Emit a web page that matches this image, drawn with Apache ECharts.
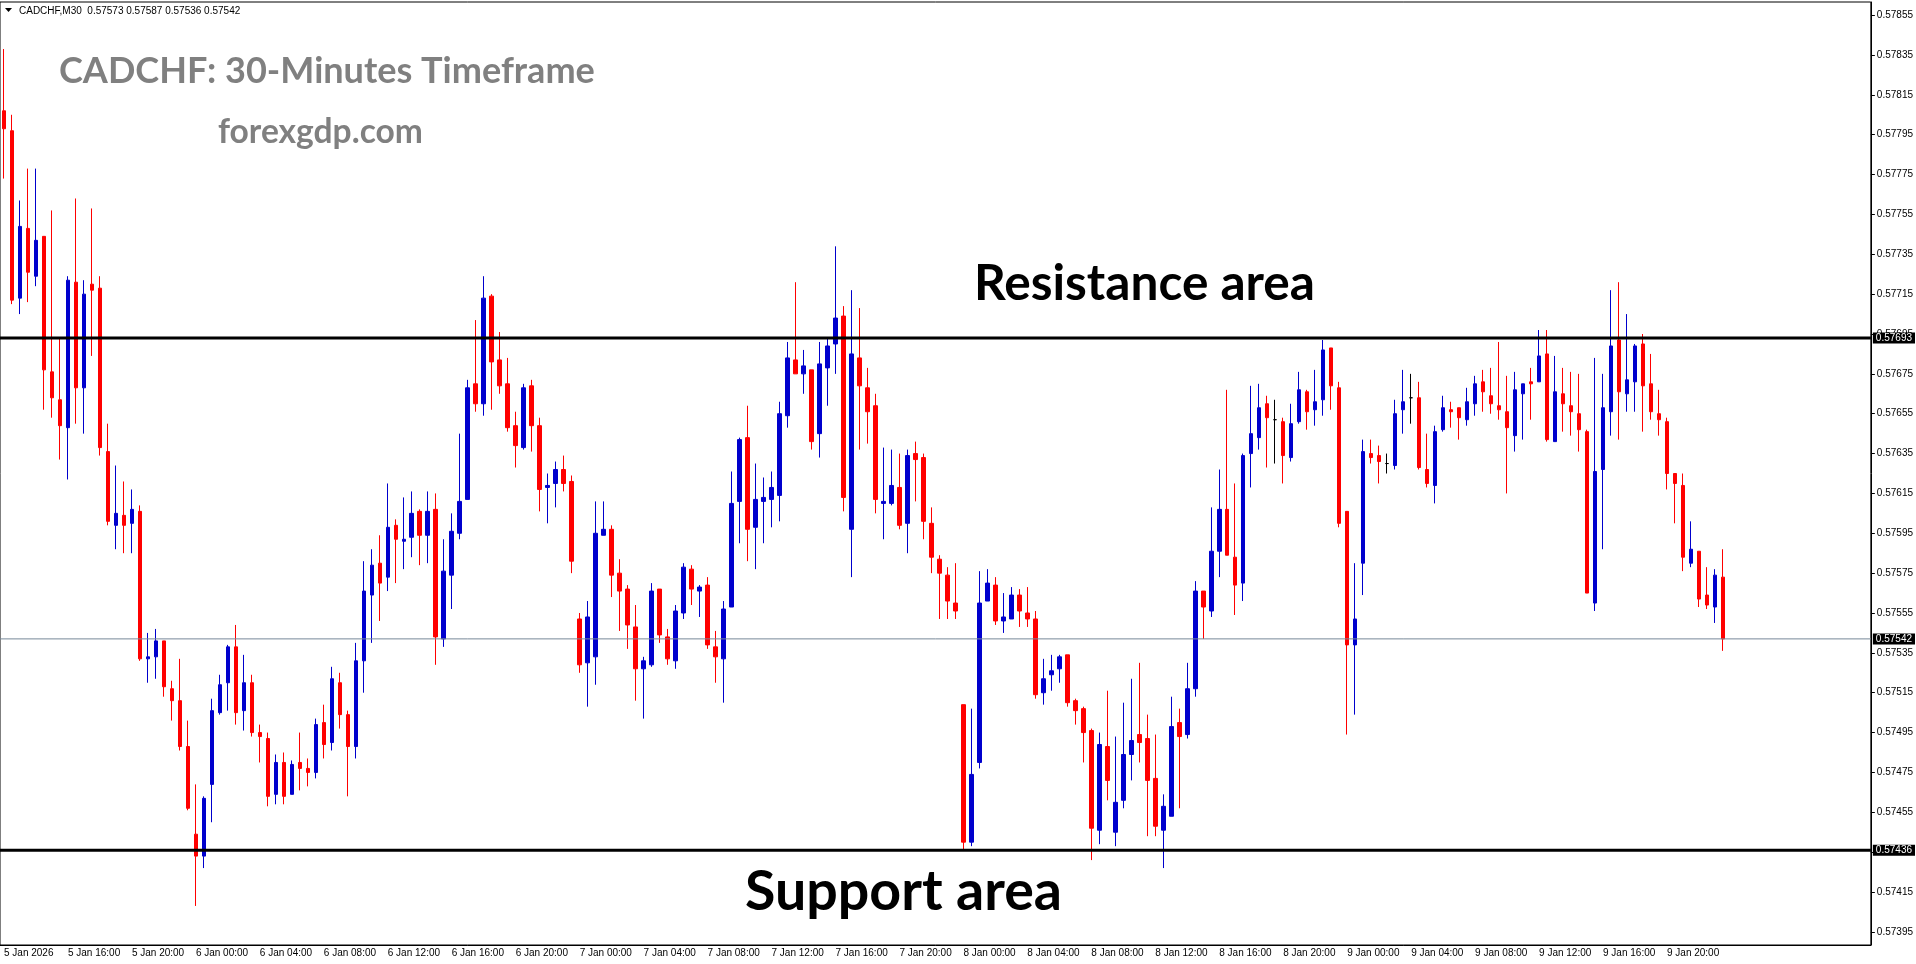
<!DOCTYPE html>
<html>
<head>
<meta charset="utf-8">
<title>CADCHF M30</title>
<script src="https://cdn.jsdelivr.net/npm/echarts@6/dist/echarts.min.js"></script>
<style>
  html, body { margin: 0; padding: 0; background: #fff; }
  #chart { width: 1916px; height: 964px; }
</style>
</head>
<body>
<div id="chart"></div>
<script>
// 30 minute bars, 5 Jan 12:00 .. 9 Jan 23:30
var opens = [
  0.57807,0.57797,0.57713,0.57748,0.57724,0.57744,0.57676,0.57662,0.57648,0.57721,
  0.57668,0.57720,0.57718,0.57636,0.57599,0.57604,0.57600,0.57606,0.57532,0.57533,
  0.57541,0.57517,0.57511,0.57488,0.57444,0.57433,0.57469,0.57505,0.57520,0.57538,
  0.57506,0.57520,0.57495,0.57492,0.57464,0.57480,0.57464,0.57480,0.57477,0.57475,
  0.57500,0.57490,0.57520,0.57504,0.57488,0.57531,0.57564,0.57580,0.57573,0.57599,
  0.57591,0.57593,0.57606,0.57594,0.57607,0.57542,0.57574,0.57595,0.57612,0.57670,
  0.57660,0.57714,0.57682,0.57670,0.57649,0.57638,0.57669,0.57649,0.57618,0.57620,
  0.57627,0.57621,0.57552,0.57530,0.57533,0.57594,0.57597,0.57575,0.57567,0.57548,
  0.57527,0.57529,0.57567,0.57543,0.57531,0.57555,0.57577,0.57566,0.57569,0.57538,
  0.57532,0.57558,0.57611,0.57643,0.57598,0.57611,0.57612,0.57614,0.57654,0.57682,
  0.57675,0.57677,0.57645,0.57678,0.57690,0.57704,0.57597,0.57683,0.57668,0.57659,
  0.57610,0.57610,0.57618,0.57600,0.57635,0.57633,0.57600,0.57582,0.57574,0.57560,
  0.57509,0.57440,0.57480,0.57561,0.57569,0.57551,0.57552,0.57564,0.57555,0.57552,
  0.57515,0.57524,0.57527,0.57534,0.57511,0.57507,0.57496,0.57446,0.57488,0.57445,
  0.57461,0.57484,0.57494,0.57492,0.57472,0.57446,0.57453,0.57500,0.57494,0.57517,
  0.57566,0.57556,0.57586,0.57607,0.57583,0.57570,0.57635,0.57643,0.57660,0.57652,
  0.57651,0.57633,0.57651,0.57666,0.57657,0.57662,0.57688,0.57668,0.57606,0.57539,
  0.57580,0.57635,0.57634,0.57630,0.57629,0.57657,0.57663,0.57663,0.57627,0.57619,
  0.57647,0.57657,0.57658,0.57652,0.57660,0.57671,0.57664,0.57659,0.57656,0.57644,
  0.57665,0.57671,0.57671,0.57685,0.57641,0.57665,0.57659,0.57655,0.57646,0.57560,
  0.57627,0.57656,0.57692,0.57665,0.57671,0.57690,0.57670,0.57655,0.57651,0.57625,
  0.57619,0.57580,0.57586,0.57564,0.57558,0.57573
];
var closes = [
  0.57798,0.57712,0.57749,0.57726,0.57742,0.57677,0.57663,0.57649,0.57722,0.57668,
  0.57715,0.57717,0.57638,0.57601,0.57605,0.57599,0.57607,0.57532,0.57533,0.57541,
  0.57518,0.57511,0.57488,0.57457,0.57433,0.57462,0.57506,0.57519,0.57538,0.57505,
  0.57520,0.57495,0.57493,0.57463,0.57480,0.57463,0.57479,0.57477,0.57475,0.57499,
  0.57489,0.57522,0.57504,0.57488,0.57531,0.57566,0.57579,0.57570,0.57598,0.57592,
  0.57592,0.57605,0.57594,0.57606,0.57543,0.57576,0.57596,0.57611,0.57668,0.57660,
  0.57713,0.57681,0.57669,0.57648,0.57639,0.57668,0.57649,0.57617,0.57619,0.57627,
  0.57620,0.57581,0.57529,0.57553,0.57595,0.57597,0.57574,0.57566,0.57549,0.57527,
  0.57531,0.57566,0.57544,0.57532,0.57556,0.57578,0.57567,0.57568,0.57539,0.57533,
  0.57557,0.57610,0.57642,0.57597,0.57612,0.57613,0.57618,0.57655,0.57683,0.57675,
  0.57679,0.57641,0.57680,0.57689,0.57703,0.57613,0.57685,0.57669,0.57656,0.57612,
  0.57611,0.57619,0.57599,0.57634,0.57632,0.57601,0.57583,0.57575,0.57561,0.57556,
  0.57440,0.57474,0.57560,0.57570,0.57551,0.57553,0.57564,0.57556,0.57552,0.57514,
  0.57522,0.57526,0.57533,0.57510,0.57506,0.57495,0.57447,0.57489,0.57471,0.57460,
  0.57484,0.57491,0.57490,0.57471,0.57448,0.57458,0.57498,0.57493,0.57517,0.57566,
  0.57558,0.57586,0.57607,0.57584,0.57569,0.57634,0.57645,0.57658,0.57653,0.57652,
  0.57634,0.57650,0.57667,0.57656,0.57661,0.57687,0.57669,0.57600,0.57539,0.57552,
  0.57636,0.57633,0.57631,0.57630,0.57655,0.57661,0.57663,0.57628,0.57620,0.57646,
  0.57658,0.57656,0.57653,0.57661,0.57670,0.57666,0.57660,0.57657,0.57648,0.57667,
  0.57670,0.57670,0.57684,0.57642,0.57666,0.57660,0.57656,0.57647,0.57565,0.57626,
  0.57658,0.57689,0.57666,0.57672,0.57689,0.57669,0.57656,0.57652,0.57625,0.57620,
  0.57583,0.57587,0.57562,0.57559,0.57574,0.57542
];
var lows = [
  0.57773,0.57710,0.57705,0.57711,0.57719,0.57657,0.57653,0.57632,0.57622,0.57650,
  0.57645,0.57684,0.57634,0.57599,0.57587,0.57585,0.57585,0.57531,0.57520,0.57522,
  0.57513,0.57501,0.57486,0.57456,0.57408,0.57427,0.57450,0.57504,0.57506,0.57499,
  0.57496,0.57493,0.57480,0.57458,0.57459,0.57459,0.57464,0.57466,0.57468,0.57472,
  0.57482,0.57486,0.57497,0.57463,0.57482,0.57515,0.57540,0.57551,0.57566,0.57570,
  0.57577,0.57583,0.57579,0.57580,0.57529,0.57538,0.57557,0.57592,0.57612,0.57656,
  0.57654,0.57657,0.57665,0.57646,0.57628,0.57637,0.57636,0.57606,0.57600,0.57608,
  0.57616,0.57575,0.57525,0.57508,0.57519,0.57594,0.57563,0.57546,0.57537,0.57511,
  0.57502,0.57528,0.57540,0.57529,0.57527,0.57552,0.57559,0.57553,0.57537,0.57520,
  0.57510,0.57558,0.57590,0.57581,0.57577,0.57590,0.57598,0.57601,0.57648,0.57675,
  0.57665,0.57637,0.57633,0.57659,0.57675,0.57606,0.57573,0.57637,0.57640,0.57605,
  0.57592,0.57609,0.57597,0.57585,0.57611,0.57592,0.57575,0.57552,0.57552,0.57552,
  0.57436,0.57438,0.57477,0.57561,0.57549,0.57545,0.57552,0.57548,0.57548,0.57512,
  0.57509,0.57516,0.57520,0.57508,0.57499,0.57480,0.57431,0.57439,0.57461,0.57438,
  0.57457,0.57471,0.57480,0.57443,0.57443,0.57427,0.57453,0.57457,0.57492,0.57513,
  0.57542,0.57553,0.57573,0.57584,0.57554,0.57561,0.57618,0.57637,0.57628,0.57630,
  0.57620,0.57631,0.57650,0.57647,0.57649,0.57654,0.57657,0.57598,0.57494,0.57504,
  0.57564,0.57630,0.57620,0.57625,0.57627,0.57645,0.57650,0.57627,0.57618,0.57610,
  0.57646,0.57648,0.57642,0.57649,0.57654,0.57656,0.57655,0.57652,0.57615,0.57636,
  0.57642,0.57652,0.57671,0.57641,0.57641,0.57646,0.57644,0.57636,0.57565,0.57556,
  0.57587,0.57644,0.57642,0.57656,0.57656,0.57646,0.57652,0.57644,0.57617,0.57600,
  0.57576,0.57578,0.57558,0.57557,0.57550,0.57536
];
var highs = [
  0.57838,0.57805,0.57762,0.57778,0.57778,0.57744,0.57757,0.57693,0.57724,0.57763,
  0.57722,0.57758,0.57724,0.57650,0.57629,0.57621,0.57617,0.57609,0.57545,0.57547,
  0.57541,0.57521,0.57532,0.57501,0.57469,0.57463,0.57512,0.57524,0.57539,0.57549,
  0.57534,0.57524,0.57499,0.57495,0.57484,0.57485,0.57481,0.57495,0.57482,0.57502,
  0.57509,0.57528,0.57525,0.57506,0.57540,0.57581,0.57587,0.57594,0.57620,0.57602,
  0.57613,0.57616,0.57607,0.57616,0.57615,0.57592,0.57605,0.57645,0.57672,0.57702,
  0.57724,0.57715,0.57696,0.57683,0.57656,0.57670,0.57672,0.57653,0.57625,0.57631,
  0.57634,0.57624,0.57555,0.57561,0.57611,0.57611,0.57599,0.57582,0.57569,0.57559,
  0.57533,0.57570,0.57567,0.57547,0.57559,0.57580,0.57579,0.57569,0.57573,0.57546,
  0.57561,0.57626,0.57643,0.57659,0.57630,0.57623,0.57626,0.57661,0.57691,0.57721,
  0.57687,0.57677,0.57691,0.57693,0.57739,0.57709,0.57717,0.57708,0.57678,0.57665,
  0.57638,0.57637,0.57635,0.57637,0.57641,0.57635,0.57608,0.57584,0.57578,0.57580,
  0.57509,0.57507,0.57576,0.57577,0.57573,0.57565,0.57568,0.57567,0.57568,0.57556,
  0.57532,0.57534,0.57534,0.57534,0.57512,0.57508,0.57497,0.57495,0.57516,0.57493,
  0.57510,0.57522,0.57530,0.57504,0.57494,0.57464,0.57513,0.57507,0.57530,0.57571,
  0.57566,0.57608,0.57627,0.57667,0.57620,0.57635,0.57669,0.57670,0.57664,0.57662,
  0.57653,0.57660,0.57676,0.57667,0.57677,0.57692,0.57688,0.57671,0.57606,0.57580,
  0.57642,0.57642,0.57639,0.57635,0.57662,0.57677,0.57675,0.57671,0.57645,0.57649,
  0.57664,0.57661,0.57658,0.57668,0.57674,0.57677,0.57678,0.57691,0.57674,0.57676,
  0.57670,0.57678,0.57697,0.57697,0.57684,0.57678,0.57676,0.57675,0.57647,0.57683,
  0.57675,0.57717,0.57721,0.57705,0.57690,0.57695,0.57685,0.57667,0.57653,0.57625,
  0.57625,0.57601,0.57586,0.57578,0.57577,0.57587
];

// one label every 8 bars (4 hours)
var timeLabels = [
  '5 Jan 2026', '5 Jan 16:00', '5 Jan 20:00',
  '6 Jan 00:00', '6 Jan 04:00', '6 Jan 08:00', '6 Jan 12:00', '6 Jan 16:00', '6 Jan 20:00',
  '7 Jan 00:00', '7 Jan 04:00', '7 Jan 08:00', '7 Jan 12:00', '7 Jan 16:00', '7 Jan 20:00',
  '8 Jan 00:00', '8 Jan 04:00', '8 Jan 08:00', '8 Jan 12:00', '8 Jan 16:00', '8 Jan 20:00',
  '9 Jan 00:00', '9 Jan 04:00', '9 Jan 08:00', '9 Jan 12:00', '9 Jan 16:00', '9 Jan 20:00'
];
var priceTicks = [
  0.57395, 0.57415, 0.57435, 0.57455, 0.57475, 0.57495, 0.57515, 0.57535,
  0.57555, 0.57575, 0.57595, 0.57615, 0.57635, 0.57655, 0.57675, 0.57695,
  0.57715, 0.57735, 0.57755, 0.57775, 0.57795, 0.57815, 0.57835, 0.57855
];
var resistance = 0.57693;
var support = 0.57436;

var barsPerLabel = 8;
var slots = 234; // bars plus the empty shift on the right

var chart = echarts.init(document.getElementById('chart'));

var candles = opens.map(function (o, i) {
  return [o, closes[i], lows[i], highs[i]];
});
var cats = [];
for (var i = 0; i < slots; i++) cats.push(String(i));
var last = opens.length - 1;

function isTimeTick(i) {
  return i % barsPerLabel === 0 && i / barsPerLabel < timeLabels.length;
}

// size a bold caption so it spans the same width as in the screenshot
var measureCtx = document.createElement('canvas').getContext('2d');
function fitSize(text, family, weight, width) {
  measureCtx.font = weight + ' 100px ' + family;
  return 100 * width / measureCtx.measureText(text).width;
}
function caption(text, x, y, width, color) {
  return {
    type: 'text', x: x, y: y, z: 100,
    style: {
      text: text, fill: color, fontFamily: 'Lato', fontWeight: 'bold',
      fontSize: fitSize(text, 'Lato', 'bold', width),
      align: 'left', verticalAlign: 'middle'
    }
  };
}
// horizontal level across the whole plot, price box on the axis at its end.
// uses the hidden 0..1 x axis so the line runs edge to edge
function level(price, color, width) {
  return {
    type: 'line',
    xAxisIndex: 1,
    data: [[0, price], [1, price]],
    symbol: 'none',
    silent: true,
    z: 5,
    lineStyle: { color: color, width: width, type: 'solid' },
    endLabel: {
      show: true,
      distance: 2,
      formatter: price.toFixed(5),
      backgroundColor: '#000', color: '#fff', fontSize: 10,
      padding: [1, 3, 0, 3]
    }
  };
}

var header = 'CADCHF,M30  ' + [opens[last], highs[last], lows[last], closes[last]]
  .map(function (v) { return v.toFixed(5); }).join(' ');

var option = {
  animation: false,
  backgroundColor: '#fff',
  textStyle: { fontFamily: 'Liberation Sans' },
  grid: {
    left: 0, right: 44, top: 2, bottom: 19,
    show: true, borderColor: '#000', borderWidth: 1, backgroundColor: '#fff'
  },
  xAxis: [
    {
      type: 'category',
      data: cats,
      boundaryGap: true,
      axisLine: { onZero: false, lineStyle: { color: '#000', width: 1 } },
      axisTick: { alignWithLabel: true, length: 4, interval: isTimeTick, lineStyle: { color: '#000' } },
      axisLabel: {
        interval: isTimeTick,
        formatter: function (v, idx) { return timeLabels[idx / barsPerLabel]; },
        align: 'left', margin: 3, fontSize: 10, color: '#000'
      },
      splitLine: { show: false }
    },
    { type: 'value', min: 0, max: 1, show: false }
  ],
  yAxis: {
    type: 'value',
    position: 'right',
    min: 0.573884,
    max: 0.578616,
    splitLine: { show: false },
    axisLine: { show: true, onZero: false, lineStyle: { color: '#000', width: 1 } },
    axisTick: { show: true, inside: false, length: 4, customValues: priceTicks, lineStyle: { color: '#000' } },
    axisLabel: {
      customValues: priceTicks,
      formatter: function (v) { return v.toFixed(5); },
      margin: 6, fontSize: 10, color: '#000'
    }
  },
  series: [
    {
      type: 'candlestick',
      data: candles,
      barWidth: 4,
      emphasis: { disabled: true },
      itemStyle: {
        color: '#0000CD', color0: '#FF0000',
        borderColor: '#0000CD', borderColor0: '#FF0000',
        borderColorDoji: '#000', borderWidth: 1
      }
    },
    level(resistance, '#000', 3),
    level(support, '#000', 3),
    level(closes[last], '#778899', 1)
  ],
  graphic: [
    { type: 'polygon', z: 100, shape: { points: [[5, 8], [12, 8], [8.5, 12]] }, style: { fill: '#000' } },
    {
      type: 'text', x: 19, y: 11, z: 100,
      style: { text: header, fill: '#000', fontFamily: 'Liberation Sans', fontSize: 10, align: 'left', verticalAlign: 'middle' }
    },
    caption('CADCHF: 30-Minutes Timeframe', 59, 71, 536, '#808080'),
    caption('forexgdp.com', 218, 132, 205, '#808080'),
    caption('Resistance area', 974, 284, 341, '#000'),
    caption('Support area', 745, 892, 317, '#000')
  ]
};

chart.setOption(option);
</script>
</body>
</html>
